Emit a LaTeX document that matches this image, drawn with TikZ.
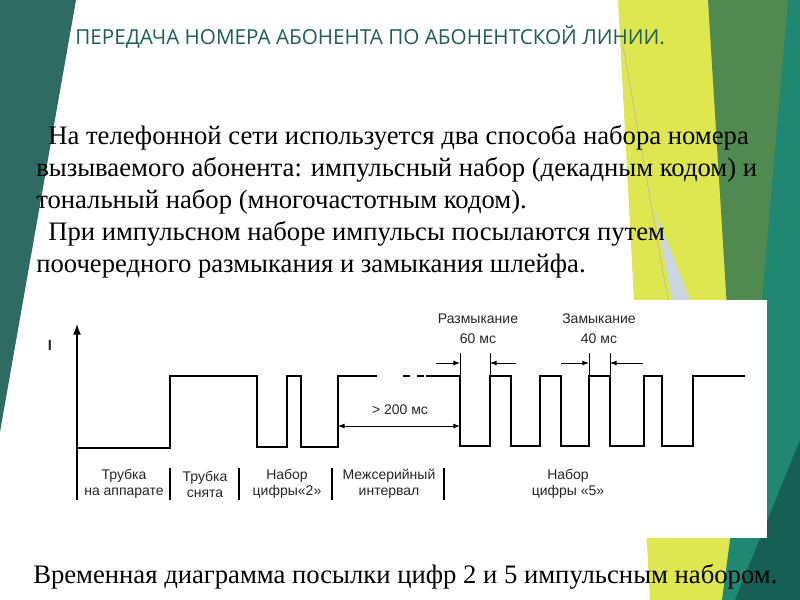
\documentclass[tikz,border=0pt]{standalone}
\usepackage{fontspec}
\usetikzlibrary{arrows.meta}
\setmainfont{Liberation Serif}
\newfontfamily\lsans{Liberation Sans}
\newfontfamily\tsans{Open Sans}
\begin{document}
\begin{tikzpicture}[x=0.75pt,y=-0.75pt,
  wave/.style={line width=1.3pt,line join=miter},
  lbl/.style={font=\lsans\fontsize{10.5}{12}\selectfont,align=center,inner sep=0pt,text=black!85},
  body/.style={font=\fontsize{20}{24}\selectfont,anchor=west,inner sep=0pt},
  dim/.style={line width=0.7pt,-{Latex[length=5pt]}}]
\useasboundingbox (0,0) rectangle (800,600);
\fill[white] (0,0) rectangle (800,600);
% decorations
\fill[fill={rgb,255:red,46;green,107;blue,99}] (0,0) -- (76,0) -- (0,432) -- cycle;
\fill[fill={rgb,255:red,222;green,230;blue,80}] (618,0) -- (708,0) -- (772,600) -- (650,600) -- cycle;
\fill[fill={rgb,255:red,200;green,215;blue,225}] (655,210) -- (690,300) -- (672,300) -- cycle;
\fill[fill={rgb,255:red,80;green,138;blue,80}] (708,0) -- (800,0) -- (800,300) -- (760,600) -- (745,600) -- cycle;
\fill[fill={rgb,255:red,32;green,135;blue,115}] (788,0) -- (800,0) -- (800,600) -- (722,600) -- (762,300) -- cycle;
\fill[fill={rgb,255:red,22;green,95;blue,85}] (800,440) -- (800,600) -- (735,600) -- cycle;
\draw[gray!60,line width=0.4pt] (622,40) -- (668,300);
% title
\node[font=\tsans\fontsize{15.5}{17}\selectfont,text={rgb,255:red,31;green,95;blue,87},anchor=west,inner sep=0pt] (title) at (75,37) {ПЕРЕДАЧА НОМЕРА АБОНЕНТА ПО АБОНЕНТСКОЙ ЛИНИИ.};
% body text
\node[body] (l1) at (48,138) {На телефонной сети используется два способа набора номера};
\node[body] (l2) at (36,170) {вызываемого абонента: импульсный набор (декадным кодом) и};
\node[body] (l3) at (36,202) {тональный набор (многочастотным кодом).};
\node[body] (l4) at (48,234) {При импульсном наборе импульсы посылаются путем};
\node[body] (l5) at (36,266) {поочередного размыкания и замыкания шлейфа.};
% diagram panel
\fill[white] (36,300) rectangle (767,538);
\node[lbl,font=\lsans\bfseries\fontsize{11}{12}\selectfont] (I) at (50,345) {I};
\draw[line width=1pt,-{Latex[length=8pt,width=6pt]}] (77,500) coordinate (ax0) -- (77,324) coordinate (ax1);
\draw[wave] (77,448) -- (170,448) -- (170,376) -- (257,376) -- (257,447) -- (287,447) -- (287,376) -- (301,376) -- (301,447) -- (338,447) -- (338,376) -- (377,376);
\draw[wave] (403,376) -- (410,376) (417,376) -- (424,376);
\draw[wave] (426,376) -- (460,376) -- (460,446) -- (490,446) -- (490,376) -- (511,376) -- (511,446) -- (540,446) -- (540,376) -- (561,376) -- (561,446) -- (589,446) -- (589,376) -- (610,376) -- (610,446) -- (644,446) -- (644,376) -- (662,376) -- (662,446) -- (693,446) -- (693,376) -- (745,376);
% dimensions
\coordinate (r1) at (460,363); \coordinate (r2) at (490,363);
\draw[line width=0.7pt] (460,353) -- (460,376) (490,353) -- (490,376);
\draw[dim] (436,363) -- (r1);
\draw[dim] (516,363) -- (r2);
\draw[line width=0.7pt] (589,353) -- (589,376) (610,353) -- (610,376);
\draw[dim] (561,363) -- (589,363);
\draw[dim] (643,363) -- (610,363);
\node[lbl] (raz) at (478,329) {Размыкание\\[3pt]60 мс};
\node[lbl] (zam) at (599,329) {Замыкание\\[3pt]40 мс};
\draw[line width=0.7pt,{Latex[length=5pt]}-{Latex[length=5pt]}] (338,426) -- (460,426);
\node[lbl] (t200) at (400,410) {> 200 мс};
% bottom separators
\draw[line width=0.8pt] (170,468) -- (170,500) (239,468) -- (239,500) (332,468) -- (332,500) (444,468) -- (444,500);
\node[lbl] (s1) at (124,484) {Трубка\\на аппарате};
\node[lbl] (s2) at (205,484) {Трубка\\снята};
\node[lbl] (s3) at (287,484) {Набор\\цифры«2»};
\node[lbl] (s4) at (389,484) {Межсерийный\\интервал};
\node[lbl] (s5) at (568,484) {Набор\\цифры «5»};
% caption
\node[body] (cap) at (33,577) {Временная диаграмма посылки цифр 2 и 5 импульсным набором.};
\end{tikzpicture}
\end{document}
